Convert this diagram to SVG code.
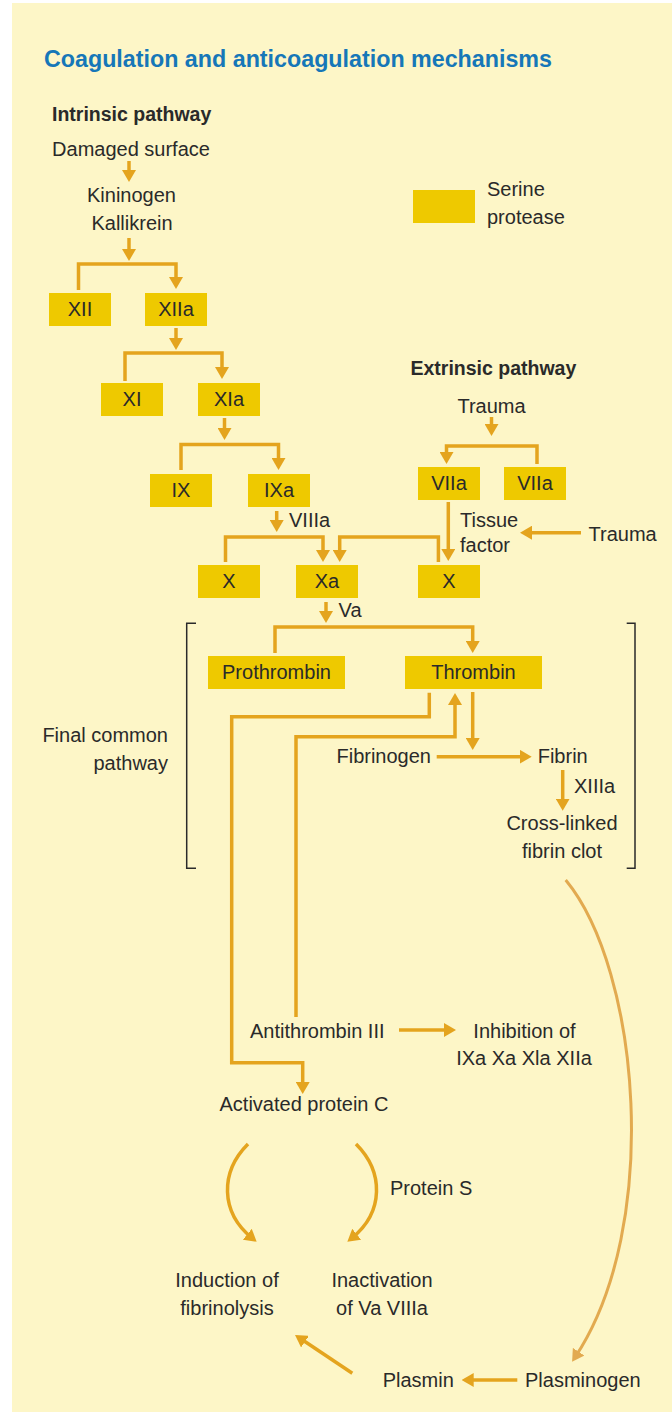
<svg xmlns="http://www.w3.org/2000/svg" width="672" height="1412" viewBox="0 0 672 1412">
<defs>
<style>
.t{font-family:"Liberation Sans",Arial,sans-serif;font-size:20px;fill:#2a2a2a}
.b{font-family:"Liberation Sans",Arial,sans-serif;font-size:19.5px;font-weight:bold;fill:#2a2a2a}
.m{text-anchor:middle}
.e{text-anchor:end}
.box{fill:#eec900}
.c{fill:none;stroke:#e4a41e;stroke-width:3.5;marker-end:url(#ah)}
.cn{fill:none;stroke:#e4a41e;stroke-width:3.5}
.br{fill:none;stroke:#2a2a2a;stroke-width:1.5}
</style>
<marker id="ah" viewBox="0 0 12 14" markerWidth="12" markerHeight="14" markerUnits="userSpaceOnUse" refX="6" refY="7" orient="auto">
<path d="M0,0 L12,7 L0,14 Z" fill="#e4a41e"/>
</marker>
<marker id="ah2" viewBox="0 0 12 14" markerWidth="12" markerHeight="14" markerUnits="userSpaceOnUse" refX="6" refY="7" orient="auto">
<path d="M0,0 L12,7 L0,14 Z" fill="#e2aa50"/>
</marker>
</defs>
<rect x="12" y="3" width="660" height="1409" fill="#fdf6c7"/>
<text x="44" y="67" font-family="'Liberation Sans',Arial,sans-serif" font-size="24" font-weight="bold" fill="#1677b8" textLength="508" lengthAdjust="spacingAndGlyphs">Coagulation and anticoagulation mechanisms</text>

<g id="intrinsic">
<text class="b" x="52" y="121">Intrinsic pathway</text>
<text class="t m" x="131" y="156">Damaged surface</text>
<text class="t m" x="131.5" y="202">Kininogen</text>
<text class="t m" x="132" y="230">Kallikrein</text>
</g>
<g id="legend">
<rect class="box" x="413" y="190" width="62" height="33"/>
<text class="t" x="487" y="196">Serine</text>
<text class="t" x="487" y="224">protease</text>
</g>
<g id="n-XII"><rect class="box" x="49" y="293" width="62" height="33"/><text class="t m" x="80" y="316">XII</text></g>
<g id="n-XIIa"><rect class="box" x="145" y="293" width="62" height="33"/><text class="t m" x="176" y="316">XIIa</text></g>
<g id="n-XI"><rect class="box" x="101" y="383" width="62" height="33"/><text class="t m" x="132" y="406">XI</text></g>
<g id="n-XIa"><rect class="box" x="198" y="383" width="62" height="33"/><text class="t m" x="229" y="406">XIa</text></g>
<g id="n-IX"><rect class="box" x="150" y="474" width="62" height="33"/><text class="t m" x="181" y="497">IX</text></g>
<g id="n-IXa"><rect class="box" x="248" y="474" width="62" height="33"/><text class="t m" x="279" y="497">IXa</text></g>
<g id="n-X1"><rect class="box" x="198" y="565" width="62" height="33"/><text class="t m" x="229" y="588">X</text></g>
<g id="n-Xa"><rect class="box" x="296" y="565" width="62" height="33"/><text class="t m" x="327" y="588">Xa</text></g>
<g id="n-X2"><rect class="box" x="418" y="565" width="62" height="33"/><text class="t m" x="449" y="588">X</text></g>
<g id="extrinsic">
<text class="b" x="410.5" y="375">Extrinsic pathway</text>
<text class="t m" x="491.5" y="413">Trauma</text>
</g>
<g id="n-VIIa1"><rect class="box" x="418" y="467" width="62" height="33"/><text class="t m" x="449" y="490">VIIa</text></g>
<g id="n-VIIa2"><rect class="box" x="504" y="467" width="62" height="33"/><text class="t m" x="535" y="490">VIIa</text></g>
<g id="tissue-factor">
<text class="t" x="460" y="527">Tissue</text>
<text class="t" x="460" y="552">factor</text>
</g>
<g id="trauma2"><text class="t" x="588.5" y="541">Trauma</text></g>
<g id="n-prothrombin"><rect class="box" x="208" y="656" width="137" height="33"/><text class="t m" x="276.5" y="679">Prothrombin</text></g>
<g id="n-thrombin"><rect class="box" x="405" y="656" width="137" height="33"/><text class="t m" x="473.5" y="679">Thrombin</text></g>
<g id="final-common">
<text class="t e" x="168" y="742">Final common</text>
<text class="t e" x="168" y="770">pathway</text>
<path class="br" d="M196,623.3 H186.7 V868.3 H196"/>
<path class="br" d="M626.7,623.3 H635 V868.3 H626.7"/>
</g>
<g id="n-fibrinogen"><text class="t e" x="431" y="763">Fibrinogen</text></g>
<g id="n-fibrin"><text class="t" x="537.7" y="763">Fibrin</text></g>
<g id="n-clot">
<text class="t m" x="562" y="830">Cross-linked</text>
<text class="t m" x="562" y="858">fibrin clot</text>
</g>
<g id="n-antithrombin"><text class="t" x="250" y="1038">Antithrombin III</text></g>
<g id="n-inhibition">
<text class="t m" x="524.5" y="1038">Inhibition of</text>
<text class="t m" x="524" y="1065">IXa Xa Xla XIIa</text>
</g>
<g id="n-apc"><text class="t m" x="304" y="1111">Activated protein C</text></g>
<g id="n-induction">
<text class="t m" x="227" y="1287">Induction of</text>
<text class="t m" x="227" y="1315">fibrinolysis</text>
</g>
<g id="n-inactivation">
<text class="t m" x="382" y="1287">Inactivation</text>
<text class="t m" x="382" y="1315">of Va VIIIa</text>
</g>
<g id="n-plasmin"><text class="t" x="382.7" y="1387">Plasmin</text></g>
<g id="n-plasminogen"><text class="t" x="525" y="1387">Plasminogen</text></g>

<g id="connectors">
<path class="c" d="M129,161 V176"/>
<path class="c" d="M129,238 V255"/>
<path class="c" d="M78.5,290 V264 H176 V283"/>
<path class="c" d="M176,328 V344"/>
<path class="c" d="M125,381 V353 H222 V373"/>
<path class="c" d="M224.5,418 V434"/>
<path class="c" d="M181,470 V444.5 H278.5 V464"/>
<path class="c" d="M276.7,511 V526"/>
<text class="t" x="289" y="527">VIIIa</text>
<path class="c" d="M225.5,562 V537 H323 V556"/>
<path class="c" d="M438.4,562 V537 H339.7 V556"/>
<path class="c" d="M491.5,417 V430"/>
<path class="c" d="M537,464 V446 H446.5 V458"/>
<path class="c" d="M448.3,502 V555"/>
<path class="c" d="M581,532.7 H526"/>
<path class="c" d="M326,602 V617"/>
<text class="t" x="338.6" y="617">Va</text>
<path class="c" d="M275,653 V627 H472.7 V647"/>
<path class="c" d="M429.3,692.7 V716.7 H231.7 V1062.7 H302.7 V1088"/>
<path class="c" d="M296,1017 V736.7 H455 V699"/>
<path class="c" d="M472.7,692 V744"/>
<path class="c" d="M436.7,756.7 H525.7"/>
<path class="c" d="M562.7,770 V804.7"/>
<text class="t" x="574" y="793">XIIIa</text>
<path class="c" d="M399,1030 H450"/>
<path class="c" d="M248,1144 C220,1172 220,1212 252,1238"/>
<path class="c" d="M356,1144 C384,1172 384,1212 352,1238"/>
<text class="t" x="390" y="1195">Protein S</text>
<path class="c" d="M517.3,1380 H467.7"/>
<path class="c" d="M352.3,1373.3 L300,1338.3"/>
<path d="M565.7,880 C640,970 662,1226 575.4,1356.7" fill="none" stroke="#e2aa50" stroke-width="3" marker-end="url(#ah2)"/>
</g>
</svg>
